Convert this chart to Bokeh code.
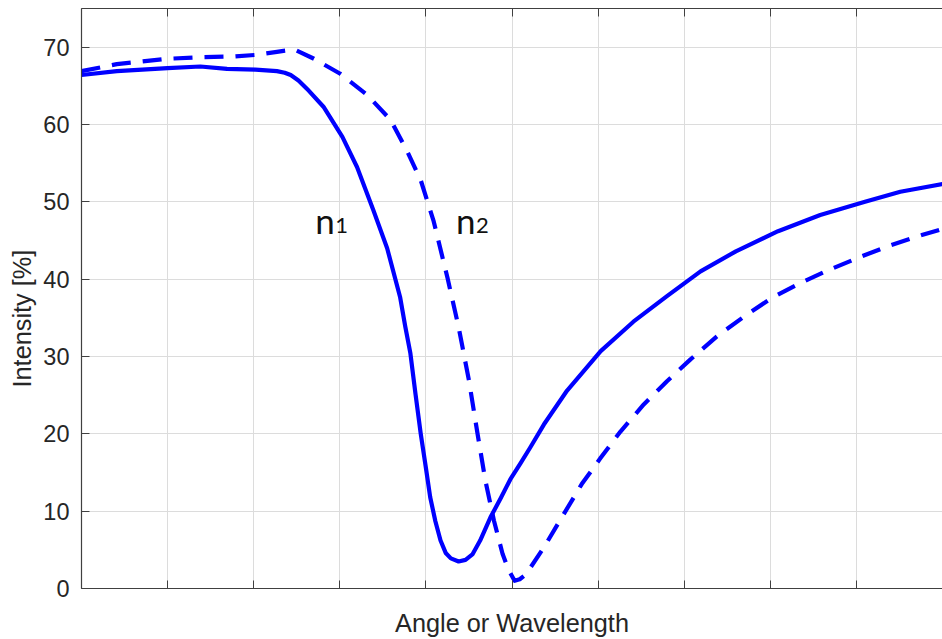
from bokeh.plotting import figure
from bokeh.models import Range1d, LinearAxis, FixedTicker, Label, CustomJSTickFormatter, Title
from bokeh.embed import file_html
from bokeh.resources import INLINE

# ---- data ----
x_n1 = [0.00, 0.41, 1.00, 1.38, 1.69, 2.02, 2.27, 2.36, 2.43, 2.52, 2.62, 2.81, 3.03, 3.20,
        3.39, 3.55, 3.70, 3.76, 3.82, 3.88, 3.94, 4.00, 4.05, 4.11, 4.17, 4.23, 4.29, 4.38,
        4.46, 4.54, 4.63, 4.75, 4.87, 4.98, 5.10, 5.21, 5.37, 5.64, 6.03, 6.41, 6.80, 7.19,
        7.60, 8.09, 8.58, 9.10, 9.51, 10.00]
y_n1 = [66.4, 66.9, 67.3, 67.5, 67.2, 67.1, 66.9, 66.7, 66.4, 65.7, 64.6, 62.3, 58.4, 54.5,
        48.9, 44.0, 37.7, 33.9, 30.4, 25.1, 20.0, 15.6, 11.8, 8.7, 6.2, 4.6, 3.9, 3.5,
        3.7, 4.4, 6.2, 9.2, 11.7, 14.1, 16.2, 18.2, 21.2, 25.6, 30.7, 34.5, 37.8, 41.0,
        43.6, 46.2, 48.3, 50.0, 51.3, 52.3]

x_n2 = [0.00, 0.41, 1.00, 1.38, 1.77, 2.02, 2.27, 2.47, 2.70, 3.00, 3.32, 3.59, 3.78, 3.94,
        4.09, 4.25, 4.38, 4.50, 4.60, 4.69, 4.79, 4.89, 4.94, 4.98, 5.03, 5.09, 5.16, 5.37,
        5.60, 5.81, 6.03, 6.26, 6.53, 6.80, 7.07, 7.38, 7.70, 8.02, 8.35, 8.68, 9.05, 9.40,
        9.76, 10.00]
y_n2 = [66.9, 67.8, 68.5, 68.7, 68.8, 69.0, 69.4, 69.7, 68.5, 66.6, 63.8, 60.6, 56.6, 52.8,
        47.5, 40.2, 33.8, 26.9, 20.0, 14.0, 8.8, 4.5, 3.0, 2.0, 1.0, 1.2, 1.8, 5.3,
        9.6, 13.5, 16.9, 20.3, 23.8, 26.8, 29.6, 32.6, 35.2, 37.6, 39.5, 41.2, 42.9, 44.4,
        45.7, 46.5]

x_ticks = [0, 1, 2, 3, 4, 5, 6, 7, 8, 9, 10]
y_ticks = [0, 10, 20, 30, 40, 50, 60, 70]
x_label = "Angle or Wavelength"
y_label = "Intensity [%]"
curve_names = ["n", "n"]
curve_subs = ["1", "2"]

AX = "#404040"
TXT = "#262626"
GRID = "#dcdcdc"
BLUE = "#0000ff"

W, H = 942, 639
p = figure(width=W, height=H, output_backend="svg", toolbar_location=None,
           x_range=Range1d(0, 10), y_range=Range1d(0, 75),
           min_border_left=81, min_border_right=0, min_border_top=8, min_border_bottom=51)
p.background_fill_color = "white"
p.border_fill_color = "white"
p.outline_line_color = None

# grid
p.xgrid.ticker = FixedTicker(ticks=x_ticks)
p.ygrid.ticker = FixedTicker(ticks=y_ticks)
p.xgrid.grid_line_color = GRID
p.ygrid.grid_line_color = GRID
p.xgrid.grid_line_width = 1
p.ygrid.grid_line_width = 1

# bottom axis
xa = p.xaxis[0]
xa.ticker = FixedTicker(ticks=x_ticks)
xa.formatter = CustomJSTickFormatter(code="return ''")
xa.major_label_text_font_size = "0px"
xa.major_label_standoff = 0
xa.major_tick_in = 8
xa.major_tick_out = 0
xa.minor_tick_in = 0
xa.minor_tick_out = 0
xa.axis_line_color = AX
xa.major_tick_line_color = AX
xa.axis_line_width = 1.2
xa.axis_label = x_label
xa.axis_label_text_font = "Liberation Sans"
xa.axis_label_text_font_size = "25.3px"
xa.axis_label_text_font_style = "normal"
xa.axis_label_text_color = TXT
xa.axis_label_standoff = 20

# left axis
ya = p.yaxis[0]
ya.ticker = FixedTicker(ticks=y_ticks)
ya.major_tick_in = 8
ya.major_tick_out = 0
ya.minor_tick_in = 0
ya.minor_tick_out = 0
ya.axis_line_color = AX
ya.major_tick_line_color = AX
ya.axis_line_width = 1.2
ya.major_label_text_font = "Liberation Sans"
ya.major_label_text_font_size = "23.5px"
ya.major_label_text_color = TXT
ya.major_label_standoff = 12

# y axis title, a little below the frame centre as in the reference
p.add_layout(Title(text=y_label, align="left", offset=201, standoff=9,
                   text_font="Liberation Sans", text_font_size="25.3px",
                   text_font_style="normal", text_color=TXT), "left")

# top axis (ticks only)
ta = LinearAxis(ticker=FixedTicker(ticks=x_ticks),
                formatter=CustomJSTickFormatter(code="return ''"),
                major_label_text_font_size="0px", major_label_standoff=0,
                major_tick_in=8, major_tick_out=0, minor_tick_in=0, minor_tick_out=0,
                axis_line_color=AX, major_tick_line_color=AX, axis_line_width=1.2)
p.add_layout(ta, "above")

# curves
p.line(x_n1, y_n1, line_color=BLUE, line_width=4.2, line_join="round", line_cap="round")
p.line(x_n2, y_n2, line_color=BLUE, line_width=4.2, line_dash="19 12", line_join="round")

# curve labels n1 / n2
for name, sub, xl in zip(curve_names, curve_subs, [2.714, 4.351]):
    p.add_layout(Label(x=xl, y=45.67, y_offset=15, text=name, text_font="Lato",
                       text_font_size="35px", text_color="#111111",
                       text_baseline="alphabetic", text_align="left"))
    p.add_layout(Label(x=xl, y=45.67, x_offset=20, y_offset=9.5, text=sub, text_font="Lato",
                       text_font_size="22px", text_color="#111111",
                       text_baseline="alphabetic", text_align="left"))

open("out.html", "w").write(file_html(p, INLINE))
